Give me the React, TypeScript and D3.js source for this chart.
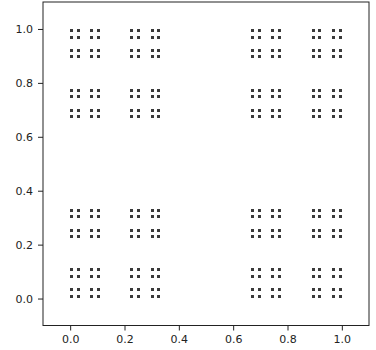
import { useEffect, useRef } from "react";
import * as d3 from "d3";

const width = 376;
const height = 350;
const marginLeft = 43;
const marginRight = 7;
const marginTop = 2;
const marginBottom = 24.5;

// Cantor dust coordinates (level 4)
const xValues = [
  0.0, 0.025, 0.074, 0.099, 0.222, 0.247, 0.296, 0.321,
  0.667, 0.691, 0.741, 0.765, 0.889, 0.914, 0.963, 0.988,
];
const yValues = [
  0.009, 0.034, 0.083, 0.108, 0.231, 0.256, 0.305, 0.33,
  0.676, 0.7, 0.75, 0.774, 0.898, 0.923, 0.972, 0.997,
];
const tickValues = [0, 0.2, 0.4, 0.6, 0.8, 1.0];

const points = xValues.flatMap((x) => yValues.map((y) => ({ x, y })));

const CantorDust = () => {
  const xRef = useRef<SVGGElement>(null);
  const yRef = useRef<SVGGElement>(null);

  const xScale = d3
    .scaleLinear()
    .domain([-0.1, 1.1])
    .range([marginLeft, width - marginRight]);
  const yScale = d3
    .scaleLinear()
    .domain([-0.1, 1.1])
    .range([height - marginBottom, marginTop]);

  useEffect(() => {
    const xAxis = d3
      .axisBottom(xScale)
      .tickValues(tickValues)
      .tickFormat(d3.format(".1f"))
      .tickSize(5)
      .tickPadding(5)
      .tickSizeOuter(0);
    const yAxis = d3
      .axisLeft(yScale)
      .tickValues(tickValues)
      .tickFormat(d3.format(".1f"))
      .tickSize(5)
      .tickPadding(5)
      .tickSizeOuter(0);
    const gx = d3.select(xRef.current!).call(xAxis);
    const gy = d3.select(yRef.current!).call(yAxis);
    [gx, gy].forEach((g) => {
      g.select(".domain").remove();
      g.selectAll("line").attr("stroke", "#222").attr("stroke-width", 1);
      g.selectAll("text")
        .attr("fill", "#222")
        .attr("font-size", 11)
        .attr("font-family", "DejaVu Sans");
    });
  }, []);

  return (
    <svg
      width={width}
      height={height}
      style={{ position: "absolute", left: 0, top: 0, background: "#fff" }}
    >
      <g className="points">
        {points.map((d, i) => (
          <rect
            key={i}
            x={Math.round(xScale(d.x))}
            y={Math.round(yScale(d.y)) - 1}
            width={3}
            height={3}
            fill="#3a3a3a"
          />
        ))}
      </g>
      <g ref={xRef} transform={`translate(0,${height - marginBottom})`} />
      <g ref={yRef} transform={`translate(${marginLeft},0)`} />
      <rect
        x={marginLeft}
        y={marginTop}
        width={width - marginLeft - marginRight}
        height={height - marginTop - marginBottom}
        fill="none"
        stroke="#222"
        strokeWidth={1}
      />
    </svg>
  );
};

export default function App() {
  return <CantorDust />;
}
